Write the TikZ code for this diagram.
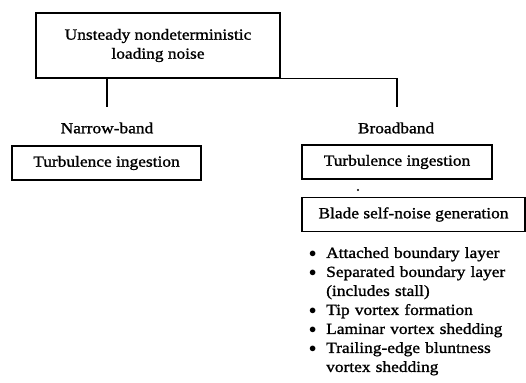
\documentclass[tikz,border=0pt]{standalone}
\usepackage{fontspec}
\setmainfont{Liberation Serif}[FakeStretch=1.12, FakeBold=1.2]
\begin{document}
\begin{tikzpicture}[x=1pt, y=-1pt,
  every node/.style={font=\fontsize{15.5}{19}\selectfont, inner sep=0pt},
  frame/.style={draw, line width=1.5pt, minimum height=0pt},
  link/.style={line width=1.4pt}]
\useasboundingbox (0,0) rectangle (526,382);

% Top box
\node[frame, minimum width=244pt, minimum height=65pt, align=center]
  (root) at (158,45.5) {Unsteady nondeterministic\\loading noise};

% Branch labels
\node (narrow) at (107,128) {Narrow-band};
\node (broad) at (396,128) {Broadband};

\coordinate (nEnd) at (107,107);
\coordinate (bEnd) at (397,107);
\draw[link] (root.south -| nEnd) -- (nEnd);
\draw[link] (root.south east) -| (bEnd);

% Narrow-band branch
\node[frame, minimum width=189pt, minimum height=34pt] (nti) at (106.5,163) {Turbulence ingestion};

% Broadband branch
\node[frame, minimum width=190pt, minimum height=34pt] (bti) at (397,162) {Turbulence ingestion};
\node[frame, minimum width=223pt, minimum height=34pt] (bsn) at (413.5,214.5) {Blade self-noise generation};
\fill (358,190) circle (1.2pt);

% Self-noise mechanisms
\node[anchor=north west, align=left, text width=200pt] (list) at (309,247) {%
  \makebox[17pt][l]{$\bullet$}Attached boundary layer\\
  \makebox[17pt][l]{$\bullet$}Separated boundary layer\\
  \hspace*{17pt}(includes stall)\\
  \makebox[17pt][l]{$\bullet$}Tip vortex formation\\
  \makebox[17pt][l]{$\bullet$}Laminar vortex shedding\\
  \makebox[17pt][l]{$\bullet$}Trailing-edge bluntness\\
  \hspace*{17pt}vortex shedding};
\end{tikzpicture}
\end{document}
